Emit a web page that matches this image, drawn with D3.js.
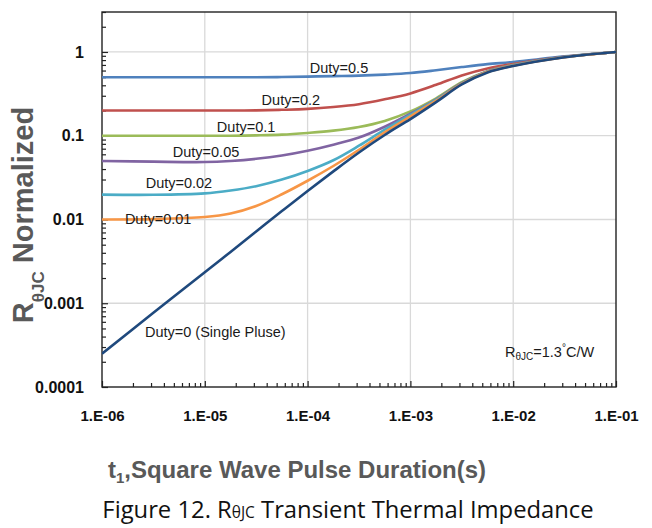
<!DOCTYPE html>
<html>
<head>
<meta charset="utf-8">
<title>Transient Thermal Impedance</title>
<script src="https://cdnjs.cloudflare.com/ajax/libs/d3/7.8.5/d3.min.js"></script>
<style>
  body { margin: 0; background: #fff; }
  svg { display: block; }
</style>
</head>
<body>
<script>
// pulse duration (s)
var pulseTimes = [1e-6, 3.16e-6, 1e-5, 1.78e-5, 3.16e-5, 5.62e-5, 1e-4, 1.78e-4, 3.16e-4, 5.62e-4,
                  1e-3, 1.78e-3, 3.16e-3, 5.62e-3, 1e-2, 3.16e-2, 1e-1];

// normalized R(theta JC) for each duty cycle
var duty05 = [0.50, 0.50, 0.50, 0.50, 0.50, 0.502, 0.508, 0.515, 0.522, 0.537, 0.56, 0.605, 0.66, 0.715, 0.76, 0.885, 1.0];
var duty02 = [0.20, 0.20, 0.20, 0.20, 0.201, 0.204, 0.209, 0.22, 0.238, 0.272, 0.32, 0.405, 0.525, 0.635, 0.72, 0.875, 1.0];
var duty01 = [0.10, 0.10, 0.10, 0.10, 0.101, 0.103, 0.108, 0.115, 0.127, 0.150, 0.195, 0.28, 0.435, 0.59, 0.70, 0.87, 1.0];
var duty005 = [0.050, 0.049, 0.0485, 0.050, 0.053, 0.058, 0.066, 0.078, 0.095, 0.128, 0.183, 0.272, 0.425, 0.585, 0.695, 0.87, 1.0];
var duty002 = [0.0198, 0.0197, 0.0205, 0.0222, 0.025, 0.030, 0.038, 0.051, 0.076, 0.118, 0.178, 0.268, 0.42, 0.58, 0.69, 0.87, 1.0];
var duty001 = [0.0100, 0.0101, 0.0107, 0.0118, 0.0145, 0.0200, 0.029, 0.0435, 0.068, 0.110, 0.170, 0.262, 0.415, 0.575, 0.685, 0.865, 1.0];
var duty0 = [2.5e-4, 7.7e-4, 2.35e-3, 4.1e-3, 7.2e-3, 0.0126, 0.0219, 0.0375, 0.063, 0.102, 0.158, 0.252, 0.41, 0.57, 0.68, 0.865, 1.0];

var seriesNames = ["Duty=0.5", "Duty=0.2", "Duty=0.1", "Duty=0.05", "Duty=0.02", "Duty=0.01", "Duty=0 (Single Pluse)"];
var seriesValues = [duty05, duty02, duty01, duty005, duty002, duty001, duty0];
var seriesColors = ["#4F81BD", "#C0504D", "#9BBB59", "#8064A2", "#4BACC6", "#F79646", "#1F497D"];

// axis ticks
var xMajorTicks = [1e-6, 1e-5, 1e-4, 1e-3, 1e-2, 1e-1];
var xTickLabels = ["1.E-06", "1.E-05", "1.E-04", "1.E-03", "1.E-02", "1.E-01"];
var yMajorTicks = [1e-4, 1e-3, 1e-2, 1e-1, 1];
var yTickLabels = ["0.0001", "0.001", "0.01", "0.1", "1"];

// where each curve label starts: [duration, value] at its baseline
var labelAnchors = [[1.05e-4, 0.56], [3.57e-5, 0.234], [1.31e-5, 0.11], [4.88e-6, 0.0556], [2.66e-6, 0.0237], [1.67e-6, 0.0089], [2.62e-6, 3.9e-4]];

var width = 652, height = 528;
var svg = d3.select("body").append("svg")
  .attr("width", width)
  .attr("height", height);

var x = d3.scaleLog().domain([1e-6, 1e-1]).range([102, 616]);
var y = d3.scaleLog().domain([1e-4, 3]).range([387, 12]);

// minor ticks 2..9 per decade
function minorTicks(lo, hi) {
  var out = [];
  for (var e = Math.round(Math.log10(lo)); Math.pow(10, e) < hi; e++) {
    for (var k = 2; k <= 9; k++) {
      var v = k * Math.pow(10, e);
      if (v <= hi * 1.0001) out.push(v);
    }
  }
  return out;
}

// gridlines
svg.append("g").selectAll("line")
  .data(xMajorTicks.slice(1, -1))
  .enter().append("line")
  .attr("x1", d => x(d)).attr("x2", d => x(d))
  .attr("y1", y.range()[1]).attr("y2", y.range()[0])
  .attr("stroke", "#d9d9d9").attr("stroke-width", 1.3);

svg.append("g").selectAll("line")
  .data(yMajorTicks.slice(1))
  .enter().append("line")
  .attr("x1", x.range()[0]).attr("x2", x.range()[1])
  .attr("y1", d => y(d)).attr("y2", d => y(d))
  .attr("stroke", "#d9d9d9").attr("stroke-width", 1.3);

// axes
var xMinor = d3.axisBottom(x).tickValues(minorTicks(1e-6, 1e-1)).tickSize(-4).tickFormat("");
var xMajor = d3.axisBottom(x).tickValues(xMajorTicks).tickSize(-6).tickPadding(23)
  .tickFormat((d, i) => xTickLabels[i]);
var yMinor = d3.axisLeft(y).tickValues(minorTicks(1e-4, 3)).tickSize(-4).tickFormat("");
var yMajor = d3.axisLeft(y).tickValues(yMajorTicks).tickSize(-6).tickPadding(18)
  .tickFormat((d, i) => yTickLabels[i]);

function styleAxis(g) {
  g.select(".domain").remove();
  g.selectAll(".tick line").attr("stroke", "#222").attr("stroke-width", 1.2);
  g.selectAll("text")
    .attr("font-family", "'Liberation Sans', Arial, sans-serif")
    .attr("font-weight", "bold")
    .attr("fill", "#111");
}

svg.append("g").attr("transform", "translate(0,387)").call(xMinor).call(styleAxis);
svg.append("g").attr("transform", "translate(0,387)").call(xMajor).call(styleAxis)
  .selectAll("text").attr("font-size", 15);
svg.append("g").attr("transform", "translate(102,0)").call(yMinor).call(styleAxis);
svg.append("g").attr("transform", "translate(102,0)").call(yMajor).call(styleAxis)
  .selectAll("text").attr("font-size", 16);

// plot frame
svg.append("rect")
  .attr("x", x.range()[0]).attr("y", y.range()[1])
  .attr("width", x.range()[1] - x.range()[0])
  .attr("height", y.range()[0] - y.range()[1])
  .attr("fill", "none").attr("stroke", "#222").attr("stroke-width", 1.4);

svg.append("clipPath").attr("id", "plotclip").append("rect")
  .attr("x", x.range()[0]).attr("y", y.range()[1])
  .attr("width", x.range()[1] - x.range()[0])
  .attr("height", y.range()[0] - y.range()[1]);

// curves
var line = d3.line()
  .x(d => x(d[0]))
  .y(d => y(d[1]))
  .curve(d3.curveCatmullRom.alpha(0.5));

svg.append("g").attr("clip-path", "url(#plotclip)")
  .selectAll("path")
  .data(seriesValues)
  .enter().append("path")
  .attr("d", vals => line(pulseTimes.map((t, i) => [t, vals[i]])))
  .attr("fill", "none")
  .attr("stroke", (d, i) => seriesColors[i])
  .attr("stroke-width", 2.6)
  .attr("stroke-linejoin", "round");

// curve labels
svg.append("g").selectAll("text")
  .data(seriesNames)
  .enter().append("text")
  .attr("x", (d, i) => x(labelAnchors[i][0]))
  .attr("y", (d, i) => y(labelAnchors[i][1]))
  .attr("font-family", "'Liberation Sans', Arial, sans-serif")
  .attr("font-size", 14.5)
  .attr("fill", "#1a1a1a")
  .text(d => d);

// R(theta JC) note
var note = svg.append("text")
  .attr("x", 505).attr("y", 357)
  .attr("font-family", "'Liberation Sans', Arial, sans-serif")
  .attr("font-size", 14.5)
  .attr("fill", "#1a1a1a");
note.append("tspan").text("R");
note.append("tspan").attr("font-size", 10).attr("dy", 3).text("θJC");
note.append("tspan").attr("dy", -3).text("=1.3");
note.append("tspan").attr("font-size", 10).attr("dy", -6).text("°");
note.append("tspan").attr("dy", 6).text("C/W");

// y axis title
var yTitle = svg.append("text")
  .attr("transform", "translate(33,215) rotate(-90)")
  .attr("text-anchor", "middle")
  .attr("font-family", "'Liberation Sans', Arial, sans-serif")
  .attr("font-weight", "bold")
  .attr("font-size", 29)
  .attr("fill", "#595959");
yTitle.append("tspan").text("R");
yTitle.append("tspan").attr("font-size", 17).attr("dy", 11).text("θJC");
yTitle.append("tspan").attr("dy", -11).text(" Normalized");

// x axis title
var xTitle = svg.append("text")
  .attr("x", 297).attr("y", 478)
  .attr("text-anchor", "middle")
  .attr("font-family", "'Liberation Sans', Arial, sans-serif")
  .attr("font-weight", "bold")
  .attr("font-size", 24)
  .attr("fill", "#595959");
xTitle.append("tspan").text("t");
xTitle.append("tspan").attr("font-size", 15).attr("dy", 5).text("1");
xTitle.append("tspan").attr("dy", -5).text(",Square Wave Pulse Duration(s)");

// figure caption
var caption = svg.append("text")
  .attr("x", 348).attr("y", 518)
  .attr("text-anchor", "middle")
  .attr("font-family", "'Open Sans', 'Noto Sans', sans-serif")
  .attr("font-size", 23.8)
  .attr("fill", "#111");
caption.append("tspan").text("Figure 12. R");
caption.append("tspan").attr("font-size", 15.5).text("θJC");
caption.append("tspan").text(" Transient Thermal Impedance");
</script>
</body>
</html>
